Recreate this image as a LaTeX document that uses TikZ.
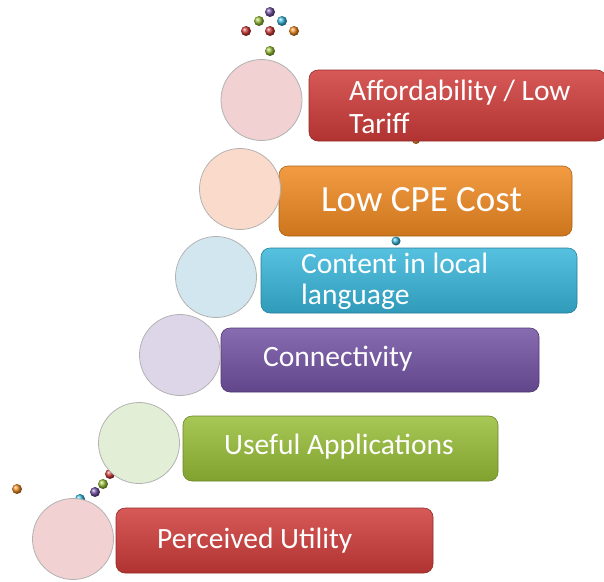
\documentclass[tikz,border=0pt]{standalone}
\usepackage{fontspec}
\setmainfont{Carlito}
\begin{document}
\begin{tikzpicture}[x=1pt,y=-1pt,
  barbox/.style={rounded corners=9pt, draw=#1!70!black, line width=0.6pt, top color=#1!85!white, bottom color=#1!85!black},
  disc/.style={circle, minimum size=81pt, inner sep=0pt, draw=black!30, line width=0.8pt, fill=#1},
  ball/.style={circle, minimum size=10pt, inner sep=0pt, ball color=#1},
  lbl/.style={text=white, font=\fontsize{29.5}{33}\selectfont, anchor=west, align=left, inner sep=0pt}]
\useasboundingbox (0,0) rectangle (604,581);
\definecolor{cred}{HTML}{D03C3A}
\definecolor{corange}{HTML}{F08A22}
\definecolor{ccyan}{HTML}{38B6DA}
\definecolor{cpurple}{HTML}{7352A3}
\definecolor{cgreen}{HTML}{98BE38}
\definecolor{dpink}{HTML}{F1D1D1}
\definecolor{dpeach}{HTML}{FADBCB}
\definecolor{dblue}{HTML}{D2E6EF}
\definecolor{dlav}{HTML}{DDD6E9}
\definecolor{dgreen}{HTML}{E3EED6}
% dots
\node[ball=cpurple] (d1) at (270,12) {};
\node[ball=cgreen] (d2) at (259,21) {};
\node[ball=ccyan] (d3) at (282,21) {};
\node[ball=cred] (d4) at (246,31) {};
\node[ball=cred] (d5) at (270,31) {};
\node[ball=corange] (d6) at (294,31) {};
\node[ball=cgreen] (d7) at (270,51) {};
\node[ball=corange] (d8) at (17,489) {};
\node[ball=ccyan] (d9) at (80,499) {};
\node[ball=cpurple] (d10) at (95,492) {};
\node[ball=cgreen] (d11) at (103,484) {};
\node[ball=cred] (d12) at (110,474) {};
\node[ball=cred, minimum size=8pt] (d13) at (176,391) {};
\node[ball=corange, minimum size=8pt] (d14) at (416,140) {};
\node[ball=ccyan, minimum size=9pt] (d15) at (396,241) {};
% bars
\path[barbox=cred] (309,70) rectangle (606,141);
\path[barbox=corange] (279,166) rectangle (572,236);
\path[barbox=ccyan] (261,248) rectangle (577,313);
\path[barbox=cpurple] (221,328) rectangle (539,392);
\path[barbox=cgreen] (183,416) rectangle (498,481);
\path[barbox=cred] (116,508) rectangle (433,573);
% discs
\node[disc=dpink] (c1) at (261.5,100) {};
\node[disc=dpeach] (c2) at (240,189) {};
\node[disc=dblue] (c3) at (216,277) {};
\node[disc=dlav] (c4) at (180,355) {};
\node[disc=dgreen] (c5) at (139,443) {};
\node[disc=dpink] (c6) at (73,539) {};
% labels
\node[lbl] (t1) at (349,107) {Affordability / Low\\Tariff};
\node[lbl, font=\fontsize{37}{40}\selectfont] (t2) at (321,200) {Low CPE Cost};
\node[lbl, font=\fontsize{29.5}{31}\selectfont] (t3) at (301,281) {Content in local\\language};
\node[lbl] (t4) at (263,359) {Connectivity};
\node[lbl] (t5) at (224,447) {Useful Applications};
\node[lbl] (t6) at (157,541) {Perceived Utility};
\end{tikzpicture}
\end{document}
